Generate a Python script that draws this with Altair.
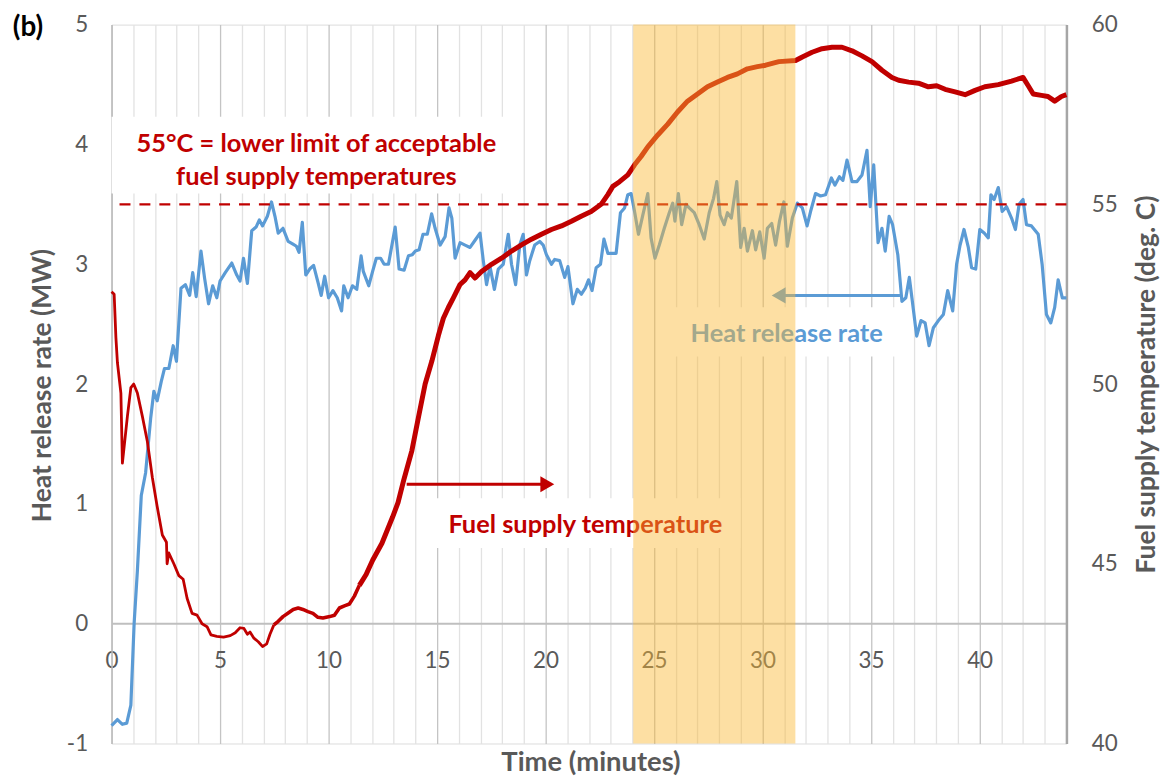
import altair as alt
import pandas as pd

# ---------------- data ----------------
hrr_t = [0, 0.27, 0.5, 0.7, 0.89, 1.04, 1.19, 1.37, 1.57, 1.8,
         1.95, 2.1, 2.29, 2.44, 2.64, 2.84, 2.99, 3.2, 3.4, 3.6,
         3.74, 3.9, 4.12, 4.29, 4.47, 4.66, 4.85, 5.0, 5.24, 5.54,
         5.77, 5.92, 6.08, 6.26, 6.46, 6.66, 6.81, 6.96, 7.18, 7.37,
         7.53, 7.68, 7.9, 8.14, 8.34, 8.52, 8.64, 8.79, 8.95, 9.13,
         9.31, 9.51, 9.66, 9.82, 10.0, 10.2, 10.4, 10.6, 10.7, 10.9,
         11.1, 11.3, 11.5, 11.6, 11.85, 12.03, 12.2, 12.4, 12.56, 12.76,
         13.07, 13.25, 13.48, 13.68, 13.86, 14.0, 14.17, 14.35, 14.55, 14.75,
         14.91, 15.14, 15.37, 15.55, 15.68, 15.83, 16.06, 16.29, 16.52, 16.75,
         16.98, 17.13, 17.28, 17.44, 17.64, 17.82, 18.05, 18.28, 18.43, 18.62,
         18.81, 18.97, 19.12, 19.27, 19.5, 19.73, 19.89, 20.04, 20.27, 20.42,
         20.65, 20.88, 21.03, 21.26, 21.46, 21.65, 21.83, 21.98, 22.14, 22.33,
         22.53, 22.69, 22.87, 23.05, 23.25, 23.45, 23.64, 23.79, 23.94, 24.1,
         24.28, 24.48, 24.71, 24.86, 25.04, 25.24, 25.47, 25.7, 25.86, 25.96,
         26.12, 26.27, 26.47, 26.62, 26.85, 27.08, 27.31, 27.54, 27.74, 27.89,
         28.04, 28.23, 28.38, 28.56, 28.81, 28.99, 29.15, 29.3,
         29.53, 29.68, 29.87, 30.07, 30.22, 30.42, 30.6, 30.78, 30.98, 31.14,
         31.37, 31.6, 31.83, 32.05, 32.21, 32.44, 32.67, 32.9, 33.17, 33.33,
         33.54, 33.7, 33.89, 34.12, 34.35, 34.58, 34.81, 34.96, 35.12, 35.32,
         35.5, 35.65, 35.83, 35.99, 36.23, 36.42, 36.6, 36.76, 36.88, 37.1,
         37.3, 37.49, 37.67, 37.87, 38.1, 38.33, 38.53, 38.76, 38.94, 39.1,
         39.28, 39.48, 39.63, 39.82, 40.01, 40.21, 40.4, 40.52, 40.67, 40.86,
         41.04, 41.24, 41.47, 41.65, 41.82, 42.0, 42.16, 42.39, 42.7, 42.88,
         43.08, 43.28, 43.46, 43.62, 43.81, 44.0]

hrr_mw = [-0.85, -0.80, -0.84, -0.83, -0.68, 0.0, 0.44, 1.07, 1.26, 1.71,
          1.94, 1.86, 2.02, 2.13, 2.13, 2.32, 2.19, 2.80, 2.83, 2.74,
          2.93, 2.73, 3.11, 2.88, 2.67, 2.82, 2.72, 2.86, 2.93, 3.01,
          2.91, 2.86, 3.05, 2.84, 3.28, 3.31, 3.37, 3.32, 3.40, 3.52,
          3.40, 3.26, 3.30, 3.19, 3.17, 3.15, 3.10, 3.35, 2.91, 2.96,
          2.99, 2.85, 2.74, 2.90, 2.72, 2.78, 2.72, 2.61, 2.82, 2.72,
          2.82, 2.79, 3.07, 2.94, 2.82, 2.94, 3.05, 3.05, 3.0, 3.0,
          3.31, 2.96, 2.95, 3.07, 3.08, 3.11, 3.12, 3.25, 3.25, 3.42,
          3.30, 3.16, 3.23, 3.47, 3.385, 3.05, 3.18, 3.16, 3.14, 3.20,
          3.26, 3.03, 2.83, 2.98, 2.79, 2.96, 3.0, 3.25, 3.0, 2.83,
          3.16, 3.25, 2.91, 3.03, 3.16, 3.19, 3.16, 3.08, 3.0, 3.04,
          3.03, 2.89, 2.98, 2.67, 2.79, 2.75, 2.80, 2.87, 2.78, 2.97,
          3.0, 3.21, 3.09, 3.09, 3.09, 3.43, 3.47, 3.58, 3.59, 3.44,
          3.25, 3.41, 3.59, 3.22, 3.05, 3.16, 3.30, 3.43, 3.51, 3.36,
          3.59, 3.33, 3.50, 3.47, 3.43, 3.33, 3.21, 3.43, 3.55, 3.69,
          3.41, 3.33, 3.43, 3.385, 3.69, 3.14, 3.30, 3.11,
          3.28, 3.12, 3.27, 3.05, 3.30, 3.34, 3.16, 3.36, 3.52, 3.15,
          3.385, 3.51, 3.47, 3.32, 3.44, 3.59, 3.57, 3.58, 3.72, 3.66,
          3.73, 3.70, 3.87, 3.69, 3.69, 3.745, 3.95, 3.48, 3.83, 3.18,
          3.30, 3.11, 3.40, 3.33, 3.08, 2.69, 2.72, 2.89, 2.72, 2.40,
          2.53, 2.51, 2.32, 2.47, 2.53, 2.58, 2.78, 2.61, 3.0, 3.16,
          3.29, 3.14, 2.97, 2.96, 3.29, 3.26, 3.22, 3.58, 3.54, 3.64,
          3.44, 3.48, 3.385, 3.29, 3.50, 3.54, 3.33, 3.32, 3.25, 3.0,
          2.58, 2.51, 2.64, 2.87, 2.72, 2.72]

temp_t = [0, 0.12, 0.2, 0.27, 0.43, 0.5, 0.73, 0.89, 1.02, 1.19,
          1.42, 1.65, 1.88, 2.1, 2.34, 2.53, 2.56, 2.64, 2.87, 3.1,
          3.3, 3.48, 3.71, 3.94, 4.17, 4.4, 4.58, 4.85, 5.16, 5.47,
          5.7, 5.92, 6.1, 6.26, 6.38, 6.56, 6.76, 6.96, 7.15, 7.3,
          7.48, 7.68, 7.9, 8.14, 8.37, 8.6, 8.82, 9.05, 9.28, 9.51,
          9.74, 10.05, 10.27, 10.5, 10.73, 10.96, 11.19, 11.42, 11.73, 12.03,
          12.46, 12.95, 13.2, 13.46, 13.84, 14.14, 14.45, 14.76, 15.06, 15.29,
          15.52, 15.75, 16.06, 16.29, 16.52, 16.75, 17.05, 17.51, 17.97, 18.43,
          18.89, 19.35, 19.81, 20.27, 20.73, 21.19, 21.64, 22.1, 22.56, 22.87,
          23.1, 23.41, 23.79, 24.1, 24.4, 24.71, 25.17, 25.63, 26.08, 26.54,
          27.0, 27.46, 27.92, 28.38, 28.84, 29.3, 29.76, 30.14, 30.75, 31.52,
          31.83, 32.28, 32.74, 33.2, 33.66, 34.12, 34.58, 35.04, 35.5, 35.96,
          36.27, 36.73, 37.18, 37.64, 38.02, 38.41, 38.87, 39.33, 39.79, 40.24,
          40.86, 41.47, 42.0, 42.24, 42.47, 42.85, 43.15, 43.46, 43.77, 44.0]

temp_c = [52.57, 52.5, 51.3, 50.6, 49.75, 47.8, 49.1, 49.9, 50.0, 49.75,
          49.1, 48.4, 47.4, 46.6, 45.8, 45.6, 45.0, 45.3, 45.0, 44.67,
          44.57, 44.04, 43.62, 43.57, 43.33, 43.25, 43.02, 42.98, 42.96, 43.0,
          43.08, 43.22, 43.2, 43.04, 43.1, 42.93, 42.83, 42.7, 42.77, 43.04,
          43.3, 43.4, 43.53, 43.63, 43.73, 43.77, 43.73, 43.67, 43.62, 43.51,
          43.49, 43.53, 43.57, 43.77, 43.83, 43.88, 44.1, 44.4, 44.7, 45.1,
          45.57, 46.3, 46.7, 47.32, 48.15, 49.07, 50.0, 50.64, 51.35, 51.83,
          52.13, 52.4, 52.77, 52.9, 53.1, 52.95, 53.13, 53.33, 53.5, 53.7,
          53.87, 54.03, 54.17, 54.3, 54.4, 54.53, 54.67, 54.8, 55.0, 55.27,
          55.5, 55.63, 55.82, 56.1, 56.33, 56.6, 56.93, 57.23, 57.57, 57.87,
          58.07, 58.27, 58.4, 58.53, 58.63, 58.77, 58.83, 58.87, 58.97, 59.0,
          59.1, 59.23, 59.33, 59.37, 59.37, 59.27, 59.13, 58.97, 58.73, 58.53,
          58.45, 58.4, 58.37, 58.27, 58.3, 58.2, 58.13, 58.05, 58.17, 58.27,
          58.33, 58.43, 58.53, 58.3, 58.07, 58.03, 58.0, 57.87, 58.0, 58.05]

limit_temp = [55]                       # deg C, lower acceptable limit
window_start = [24.04]                  # highlighted time window (minutes)
window_end = [31.51]
x_tick_values = list(range(0, 45))
left_ticks = [-1, 0, 1, 2, 3, 4, 5]
right_ticks = [40, 45, 50, 55, 60]

note_lines = ["55°C = lower limit of acceptable", "fuel supply temperatures"]
fuel_label = ["Fuel supply temperature"]
hrr_label = ["Heat release rate"]

# ---------------- styling ----------------
FONT = "Lato"
RED = "#C00000"
BLUE = "#5B9BD5"
GREY_TXT = "#595959"
W, H = 959, 722
X_MAX = 44.0
TICK_FS = 22.5
TITLE_FS = 26.5
NOTE_FS = 25.5

hrr_df = pd.DataFrame({"t": hrr_t, "mw": hrr_mw})
temp_df = pd.DataFrame({"t": temp_t, "temp": temp_c})

xscale = alt.Scale(domain=[0, X_MAX], nice=False, zero=False)
x_axis = alt.Axis(values=x_tick_values, labelExpr="datum.value % 5 === 0 ? datum.label : ''",
                  grid=True, labelFlush=False,
                  gridColor={"condition": {"test": "datum.value % 5 === 0", "value": "#C4C4C4"}, "value": "#E2E2E2"},
                  gridWidth=1.3, ticks=False, domainColor="#BFBFBF", domainWidth=2,
                  offset=-120.7, labelPadding=26, labelFont=FONT, labelFontSize=TICK_FS, labelColor=GREY_TXT,
                  title="Time (minutes)", titleFont=FONT, titleFontSize=27.5, titleFontWeight="bold",
                  titleColor=GREY_TXT, titleY=148, titleX=481, titleBaseline="alphabetic")

def X(field):
    return alt.X(field, type="quantitative", scale=xscale, axis=x_axis)

yl_scale = alt.Scale(domain=[-1, 5], nice=False, zero=False)
yl_axis = alt.Axis(values=left_ticks, grid=False, ticks=False, domainColor="#BFBFBF", domainWidth=1.5,
                   labelExpr="datum.value < 0 ? '-' + abs(datum.value) : datum.label",
                   labelPadding=24, labelFont=FONT, labelFontSize=TICK_FS, labelColor=GREY_TXT,
                   title="Heat release rate (MW)", titleFont=FONT, titleFontSize=TITLE_FS, titleFontWeight="bold",
                   titleColor=GREY_TXT, titleAngle=270, titleX=-61, titleY=362, titleBaseline="alphabetic")

def YL(field):
    return alt.Y(field, type="quantitative", scale=yl_scale, axis=yl_axis)

yr_scale = alt.Scale(domain=[40, 60], nice=False, zero=False)
yr_axis = alt.Axis(orient="right", values=right_ticks, grid=False, ticks=False, domainColor="#A6A6A6",
                   domainWidth=2.5, labelPadding=25, labelFont=FONT, labelFontSize=TICK_FS, labelColor=GREY_TXT,
                   title="Fuel supply temperature (deg. C)", titleFont=FONT, titleFontSize=TITLE_FS,
                   titleFontWeight="bold", titleColor=GREY_TXT, titleAngle=270, titleX=88, titleY=361,
                   titleBaseline="alphabetic")

def YR(field):
    return alt.Y(field, type="quantitative", scale=yr_scale, axis=yr_axis)

# annotation boxes (white, hide gridlines) in data coordinates: minutes / MW
boxes_df = pd.DataFrame({"x0": [0, 14.37, 25.8], "x1": [18.28, 28.98, 36.2],
                         "y0": [3.59, 0.632, 2.23], "y1": [4.23, 1.047, 2.64]})
boxes = alt.Chart(boxes_df).mark_rect(color="white").encode(x=X("x0"), x2="x1", y=YL("y0"), y2="y1")

blue = alt.Chart(hrr_df).mark_line(color=BLUE, strokeWidth=3.2, strokeJoin="round").encode(
    x=X("t"), y=YL("mw"), order="t:Q")

# arrows
arrow_df = pd.DataFrame({"a": [13.6, 36.33], "b": [20.0, 30.85], "y": [1.163, 2.74], "c": ["r", "b"]})
arrow_color = alt.Scale(domain=["r", "b"], range=[RED, BLUE])
arrow_lines = alt.Chart(arrow_df).mark_rule(strokeWidth=3).encode(
    x=X("a"), x2="b", y=YL("y"), color=alt.Color("c:N", scale=arrow_color, legend=None))
head_df = pd.DataFrame({"hx": [20.08], "hy": [1.163]})
head_r = alt.Chart(head_df).mark_point(shape="triangle-right", filled=True, size=260, color=RED,
                                       opacity=1).encode(x=X("hx"), y=YL("hy"))
head_df2 = pd.DataFrame({"hx": [30.74], "hy": [2.74]})
head_b = alt.Chart(head_df2).mark_point(shape="triangle-left", filled=True, size=260, color=BLUE,
                                        opacity=1).encode(x=X("hx"), y=YL("hy"))

note_df = pd.DataFrame({"tx": [9.44, 9.44], "ty": [4.0, 3.73], "txt": note_lines})
note = alt.Chart(note_df).mark_text(font=FONT, fontSize=NOTE_FS, fontWeight="bold", color=RED,
                                    baseline="middle", align="center").encode(
    x=X("tx"), y=YL("ty"), text="txt:N")
fuel_df = pd.DataFrame({"tx": [21.83], "ty": [0.82], "txt": fuel_label})
fuel_txt = alt.Chart(fuel_df).mark_text(font=FONT, fontSize=NOTE_FS, fontWeight="bold", color=RED,
                                        baseline="middle", align="center").encode(
    x=X("tx"), y=YL("ty"), text="txt:N")
hrr_df_lbl = pd.DataFrame({"tx": [31.11], "ty": [2.42], "txt": hrr_label})
hrr_txt = alt.Chart(hrr_df_lbl).mark_text(font=FONT, fontSize=NOTE_FS, fontWeight="bold", color=BLUE,
                                          baseline="middle", align="center").encode(
    x=X("tx"), y=YL("ty"), text="txt:N")

left_group = alt.layer(boxes, blue, arrow_lines, head_r, head_b, note, fuel_txt, hrr_txt)

red_thin = alt.Chart(temp_df).transform_filter("datum.t <= 7.5").mark_line(
    color=RED, strokeWidth=2.8, strokeJoin="round").encode(x=X("t"), y=YR("temp"), order="t:Q")
red_mid = alt.Chart(temp_df).transform_filter("datum.t >= 7.48 && datum.t <= 11.5").mark_line(
    color=RED, strokeWidth=3.6, strokeJoin="round").encode(x=X("t"), y=YR("temp"), order="t:Q")
red_thick = alt.Chart(temp_df).transform_filter("datum.t >= 11.42").mark_line(
    color=RED, strokeWidth=5, strokeJoin="round").encode(x=X("t"), y=YR("temp"), order="t:Q")
limit = alt.Chart(pd.DataFrame({"lim": limit_temp})).mark_rule(
    color=RED, strokeWidth=2.4, strokeDash=[11, 9]).encode(y=YR("lim"))
right_group = alt.layer(red_thin, red_mid, red_thick, limit)

shade = alt.Chart(pd.DataFrame({"s0": window_start, "s1": window_end})).mark_rect(
    color="#FBB934", opacity=0.45).encode(x=X("s0"), x2="s1", y=alt.value(0), y2=alt.value(H))

panel = alt.Chart(pd.DataFrame({"lab": ["(b)"]})).mark_text(
    font=FONT, fontSize=28, fontWeight="bold", color="black", align="center", baseline="middle").encode(
    x=alt.value(-84), y=alt.value(3), text="lab:N")

chart = alt.layer(left_group, right_group, shade, panel).resolve_scale(y="independent").properties(
    width=W, height=H,
    autosize=alt.AutoSizeParams(type="none"),
    padding={"left": 104, "top": 15, "right": 98, "bottom": 38},
).configure_view(stroke="#BFBFBF", strokeWidth=1.5).configure(background="white")

chart.save("out.html", embed_options={"renderer": "svg", "actions": False})
